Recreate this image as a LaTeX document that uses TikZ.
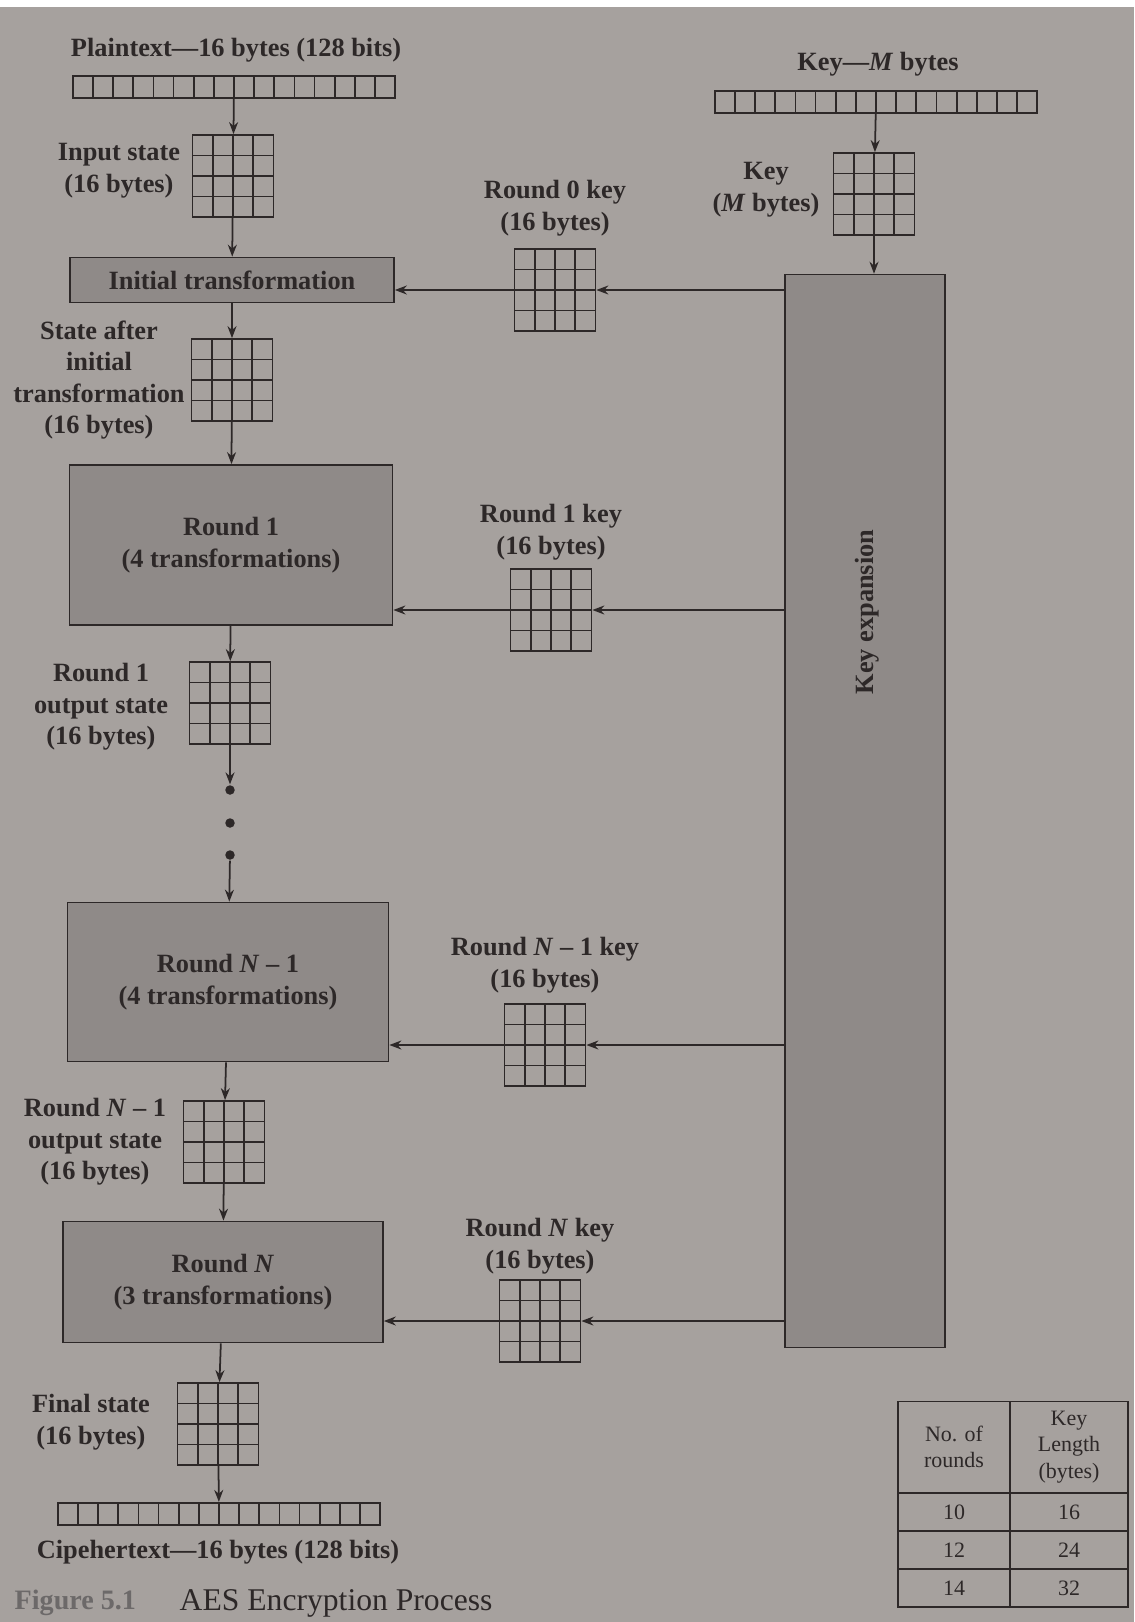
\documentclass[tikz,border=0pt]{standalone}
\usepackage{fontspec}
\setmainfont{Liberation Serif}
\usetikzlibrary{arrows.meta,calc}
\definecolor{paper}{RGB}{166,161,158}
\definecolor{shade}{RGB}{143,138,136}
\definecolor{ink}{RGB}{45,40,40}

\begin{document}
\begin{tikzpicture}[x=0.02cm, y=-0.02cm, line width=1pt,
  >={Stealth[length=2.4mm,width=1.8mm]},
  lbl/.style={font=\bfseries\fontsize{15}{18}\selectfont, text=ink, align=center, inner sep=0pt},
  box/.style={lbl, draw=ink, fill=shade},
  conn/.style={->, draw=ink},
  state/.style={draw=ink, minimum width=1.62cm, minimum height=1.64cm, inner sep=0pt,
    path picture={
      \coordinate (sw) at (path picture bounding box.south west);
      \coordinate (ne) at (path picture bounding box.north east);
      \foreach \k in {0.25,0.5,0.75} {
        \draw[ink, line width=1pt] ($(sw)!\k!(sw -| ne)$) -- ($(sw |- ne)!\k!(ne)$);
        \draw[ink, line width=1pt] ($(sw)!\k!(sw |- ne)$) -- ($(sw -| ne)!\k!(ne)$);
      }}},
  bytes/.style={draw=ink, minimum width=6.45cm, minimum height=0.45cm, inner sep=0pt,
    path picture={
      \coordinate (sw) at (path picture bounding box.south west);
      \coordinate (ne) at (path picture bounding box.north east);
      \foreach \k in {1,...,15}
        \draw[ink, line width=1pt] ($(sw)!\k/16!(sw -| ne)$) -- ($(sw |- ne)!\k/16!(ne)$);
      }},
  dot/.style={circle, fill=ink, inner sep=0pt, minimum size=0.19cm},
  cell/.style={draw=ink, align=center, inner sep=0pt, text=ink,
    font=\fontsize{12.5}{15}\selectfont}]

\useasboundingbox (0,0) rectangle (1134,1622);
\fill[paper] (0,0) rectangle (1134,1622);
\fill[white] (0,0) rectangle (1134,7);

% data path
\node[lbl] (ptlbl) at (236,50) {Plaintext—16 bytes (128 bits)};
\node[bytes] (ptrow) at (234,87) {};
\node[state] (in) at (233,176) {};
\node[lbl] (inlbl) at (119,171) {Input state\\(16 bytes)};
\node[box, minimum width=6.48cm, minimum height=0.9cm] (init) at (232,280) {Initial transformation};
\node[state] (st0) at (232,380) {};
\node[lbl] (st0lbl) at (99,380) {State after\\initial\\transformation\\(16 bytes)};
\node[box, minimum width=6.46cm, minimum height=3.2cm] (r1) at (231,545) {Round 1\\(4 transformations)};
\node[state] (st1) at (230,703) {};
\node[lbl] (st1lbl) at (101,707) {Round 1\\output state\\(16 bytes)};
\node[dot] (d1) at (230,790) {};
\node[dot] (d2) at (230,823) {};
\node[dot] (d3) at (230,855) {};
\node[box, minimum width=6.42cm, minimum height=3.18cm] (rn1) at (228,982) {Round \textit{N} – 1\\(4 transformations)};
\node[state] (stn1) at (224,1142) {};
\node[lbl] (stn1lbl) at (95,1142) {Round \textit{N} – 1\\output state\\(16 bytes)};
\node[box, minimum width=6.4cm, minimum height=2.42cm] (rn) at (223,1282) {Round \textit{N}\\(3 transformations)};
\node[state] (stf) at (218,1424) {};
\node[lbl] (stflbl) at (91,1422) {Final state\\(16 bytes)};
\node[bytes] (ctrow) at (219,1514) {};
\node[lbl] (ctlbl) at (218,1552) {Cipehertext—16 bytes (128 bits)};

% key path
\node[lbl] (klbl) at (878,64) {Key—\textit{M} bytes};
\node[bytes] (krow) at (876,102) {};
\node[state] (kst) at (874,194) {};
\node[lbl] (kstlbl) at (766,190) {Key\\(\textit{M} bytes)};
\node[box, minimum width=3.2cm, minimum height=21.46cm] (kexp) at (865,811) {};
\node[lbl, rotate=90] (kexplbl) at (867,612) {Key expansion};

% round keys
\node[lbl] (k0lbl) at (555,208) {Round 0 key\\(16 bytes)};
\node[state] (k0) at (555,290) {};
\node[lbl] (k1lbl) at (551,532) {Round 1 key\\(16 bytes)};
\node[state] (k1) at (551,610) {};
\node[lbl] (kn1lbl) at (545,965) {Round \textit{N} – 1 key\\(16 bytes)};
\node[state] (kn1) at (545,1045) {};
\node[lbl] (knlbl) at (540,1246) {Round \textit{N} key\\(16 bytes)};
\node[state] (kn) at (540,1321) {};

% table
\node[cell, minimum width=2.24cm, minimum height=1.82cm] (th1) at (954,1447) {No. of\\rounds};
\node[cell, minimum width=2.36cm, minimum height=1.82cm] (th2) at (1069,1447) {Key\\Length\\(bytes)};
\foreach \r/\l [count=\i] in {10/16, 12/24, 14/32} {
  \node[cell, minimum width=2.24cm, minimum height=0.76cm] (tr\i) at (954,1474+38*\i) {\r};
  \node[cell, minimum width=2.36cm, minimum height=0.76cm] (tl\i) at (1069,1474+38*\i) {\l};
}

% caption
\node[anchor=west, font=\bfseries\fontsize{16}{18}\selectfont, text=ink!70] (fig) at (8,1603) {Figure 5.1};
\node[anchor=west, font=\fontsize{18}{20}\selectfont, text=ink] (cap) at (173,1603) {AES Encryption Process};

% connectors
\draw[conn] (ptrow) -- (in);
\draw[conn] (in) -- (init);
\draw[conn] (init) -- (st0);
\draw[conn] (st0) -- (r1);
\draw[conn] (r1) -- (st1);
\draw[conn] (st1) -- (d1);
\draw[conn] (d3) -- (rn1);
\draw[conn] (rn1) -- (stn1);
\draw[conn] (stn1) -- (rn);
\draw[conn] (rn) -- (stf);
\draw[conn] (stf) -- (ctrow);
\draw[conn] (krow) -- (kst);
\draw[conn] (kst) -- (kst |- kexp.north);
\draw[conn] (kexp.west |- k0) -- (k0);
\draw[conn] (k0) -- (init.east |- k0);
\draw[conn] (kexp.west |- k1) -- (k1);
\draw[conn] (k1) -- (r1.east |- k1);
\draw[conn] (kexp.west |- kn1) -- (kn1);
\draw[conn] (kn1) -- (rn1.east |- kn1);
\draw[conn] (kexp.west |- kn) -- (kn);
\draw[conn] (kn) -- (rn.east |- kn);
\end{tikzpicture}
\end{document}
